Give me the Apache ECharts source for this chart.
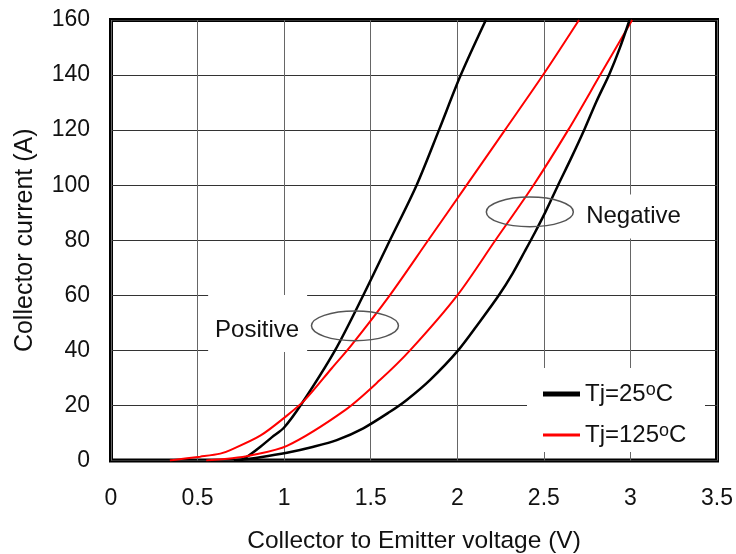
<!DOCTYPE html>
<html>
<head>
<meta charset="utf-8">
<script src="https://cdn.jsdelivr.net/npm/echarts@6/dist/echarts.min.js"></script>
<style>
  html, body { margin: 0; padding: 0; background: #fff; }
  #chart { width: 736px; height: 554px; }
</style>
</head>
<body>
<div id="chart"></div>
<script>
// Output characteristics: collector current (A) vs. collector-emitter voltage (V)
// Each point is [Vce, Ic].

// Pair with positive temperature coefficient (crossing near 20 A)
const positiveTc25 = [
  [0.75, 0], [0.80, 2], [0.863, 5], [0.93, 8.5], [1.0, 12], [1.1, 20.5],
  [1.294, 40], [1.457, 60], [1.611, 80], [1.765, 100],
  [1.894, 120], [2.02, 140], [2.165, 160]
];
const positiveTc125 = [
  [0.34, 0], [0.515, 1.4], [0.631, 2.5], [0.689, 3.8], [0.862, 9],
  [1.016, 16.3], [1.12, 22], [1.275, 33.5], [1.39, 42], [1.61, 60],
  [1.832, 80], [2.054, 100], [2.275, 120], [2.495, 140], [2.703, 160]
];

// Pair with negative temperature coefficient (crossing near 160 A)
const negativeTc25 = [
  [0.71, 0], [0.862, 1.2], [1.016, 2.8], [1.17, 5], [1.304, 7.4],
  [1.457, 11.7], [1.611, 17.7], [1.708, 22], [1.842, 29.2], [2.005, 40],
  [2.13, 50.4], [2.24, 60], [2.32, 68], [2.39, 76], [2.45, 83],
  [2.51, 90.4], [2.582, 100], [2.659, 110], [2.736, 120.5], [2.803, 130.3],
  [2.88, 140.6], [2.938, 149.7], [2.995, 160]
];
const negativeTc125 = [
  [0.55, 0], [0.7, 0.8], [0.804, 1.8], [1.016, 5.3], [1.352, 18.3],
  [1.553, 29.2], [1.727, 40], [2.0, 60], [2.22, 80], [2.44, 100],
  [2.64, 120], [2.825, 140], [3.01, 160]
];

// Axis ranges and tick spacing
const voltageAxis = { min: 0, max: 3.5, interval: 0.5 };
const currentAxis = { min: 0, max: 160, interval: 20 };

// Series names
const seriesNames = ['Tj=25\u00b0C', 'Tj=125\u00b0C'];

// Callout labels and ellipses, anchored in data units [V, A]
const callouts = [
  { text: 'Positive', label: [0.844, 47.4], ring: [1.409, 48.9] },
  { text: 'Negative', label: [3.018, 88.6], ring: [2.419, 90.3] }
];

const FONT = "'Liberation Sans', Arial, Helvetica, sans-serif";
const INK = '#111';

const chart = echarts.init(document.getElementById('chart'), null, { renderer: 'canvas' });

function curve(name, data, color, width) {
  return {
    name, type: 'line', data,
    showSymbol: false, symbol: 'none',
    smooth: 0.3,
    color,
    itemStyle: { color },
    lineStyle: { color, width },
    z: 3,
    animation: false
  };
}

function legendItem(name, top, height) {
  return {
    data: [name],
    left: 538, top,
    orient: 'horizontal',
    icon: 'rect',
    itemWidth: 37, itemHeight: height,
    itemStyle: { borderWidth: 0 },
    selectedMode: false,
    padding: 5,
    z: 10,
    formatter: n => {
      const m = n.match(/^(.*)\u00b0C$/);
      return '{t|' + m[1] + '}{s|o}{t|C}';
    },
    textStyle: {
      color: INK, fontFamily: FONT,
      rich: {
        t: { fontSize: 24, lineHeight: 26, fontFamily: FONT, color: INK },
        s: { fontSize: 18, lineHeight: 16, verticalAlign: 'top', fontFamily: FONT, color: INK }
      }
    }
  };
}

chart.setOption({
  animation: false,
  backgroundColor: '#fff',
  grid: {
    left: 111, top: 20, right: 19, bottom: 93.5,
    outerBoundsMode: 'none',
    show: true, borderColor: '#000', borderWidth: 4, backgroundColor: 'transparent'
  },
  xAxis: {
    type: 'value',
    min: voltageAxis.min, max: voltageAxis.max, interval: voltageAxis.interval,
    name: 'Collector to Emitter voltage (V)',
    nameLocation: 'middle', nameGap: 68,
    nameTextStyle: { fontFamily: FONT, fontSize: 24.5, color: INK },
    axisLine: { show: false },
    axisTick: { show: false },
    axisLabel: { margin: 27, fontFamily: FONT, fontSize: 23, color: INK },
    splitLine: { show: true, lineStyle: { color: '#666', width: 1 } }
  },
  yAxis: {
    type: 'value',
    min: currentAxis.min, max: currentAxis.max, interval: currentAxis.interval,
    name: 'Collector current (A)',
    nameLocation: 'middle', nameGap: 73,
    nameTextStyle: { fontFamily: FONT, fontSize: 25, color: INK },
    axisLine: { show: false },
    axisTick: { show: false },
    axisLabel: { margin: 21, fontFamily: FONT, fontSize: 23, color: INK },
    splitLine: { show: true, lineStyle: { color: '#333', width: 1 } }
  },
  legend: [
    legendItem(seriesNames[0], 376, 5),
    legendItem(seriesNames[1], 417, 3)
  ],
  series: [
    curve(seriesNames[0], positiveTc25, '#000000', 2.5),
    curve(seriesNames[1], positiveTc125, '#ff0000', 2),
    curve(seriesNames[1], negativeTc125, '#ff0000', 2),
    curve(seriesNames[0], negativeTc25, '#000000', 2.5)
  ]
});

// Callouts: white label boxes over the grid, text, and outline ellipses
const toPx = p => chart.convertToPixel({ gridIndex: 0 }, p);
const graphics = [
  // legend backdrop
  { type: 'rect', shape: { x: 527, y: 368, width: 178, height: 84 }, style: { fill: '#fff' }, z: 1, silent: true }
];
callouts.forEach((c, i) => {
  const [lx, ly] = toPx(c.label);
  const [rx, ry] = toPx(c.ring);
  const box = i === 0
    ? { x: lx - 49, y: ly - 35, width: 99, height: 57 }
    : { x: lx - 56, y: ly - 22, width: 112, height: 44 };
  graphics.push(
    { type: 'rect', shape: box, style: { fill: '#fff' }, z: 1, silent: true },
    { type: 'text', x: lx, y: ly, z: 6, silent: true,
      style: { text: c.text, font: '24px ' + FONT, fill: INK, align: 'center', verticalAlign: 'middle' } },
    { type: 'ellipse', shape: { cx: rx, cy: ry, rx: 43.5, ry: 14.8 }, z: 6, silent: true,
      style: { fill: 'none', stroke: '#555', lineWidth: 1.5 } }
  );
});
chart.setOption({ graphic: graphics });
</script>
</body>
</html>
